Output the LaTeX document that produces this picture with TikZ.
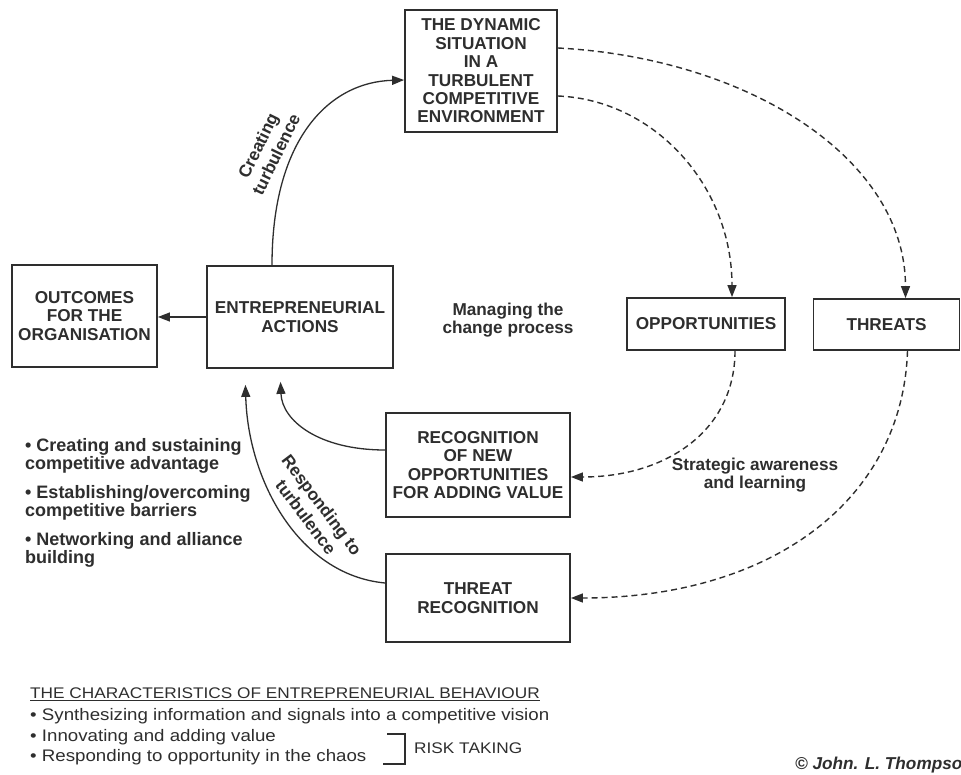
\documentclass[tikz,border=0pt]{standalone}
\usepackage{fontspec}
\setmainfont{Liberation Sans}
\newfontfamily\widesans[FakeStretch=1.12]{Liberation Sans}
\usetikzlibrary{arrows.meta}

\definecolor{ink}{gray}{0.18}

\newcommand{\boxfont}{\bfseries\fontsize{17.2}{18.4}\selectfont}
\newcommand{\listfont}{\bfseries\fontsize{18}{18.6}\selectfont}
\newcommand{\turnfont}{\bfseries\fontsize{17.2}{20}\selectfont}
\newcommand{\notefont}{\widesans\fontsize{16.7}{20}\selectfont}
\newcommand{\headfont}{\widesans\fontsize{15.4}{20}\selectfont}

\tikzset{
  box/.style={draw=ink, line width=1.8pt, align=center, inner sep=0pt,
    font=\boxfont, text=ink},
  lbl/.style={font=\boxfont, text=ink, align=center, inner sep=0pt},
  turned/.style={lbl, font=\turnfont},
  bullets/.style={font=\listfont, text=ink, align=left, anchor=west, inner sep=0pt},
  note/.style={font=\notefont, text=ink, anchor=west, inner sep=0pt},
  flow/.style={draw=ink, line width=1.3pt, -{Triangle[length=12pt,width=9pt]}},
  dflow/.style={flow, line width=1.4pt, dash pattern=on 6pt off 4pt},
}

\begin{document}
\begin{tikzpicture}[x=1pt,y=-1pt]
\fill[white] (0,0) rectangle (961,775);
\useasboundingbox (0,0) rectangle (961,775);

% boxes of the cycle
\node[box, minimum width=152pt, minimum height=122pt] (env) at (481,71)
  {THE DYNAMIC\\SITUATION\\IN A\\TURBULENT\\COMPETITIVE\\ENVIRONMENT};
\node[box, minimum width=145pt, minimum height=102pt] (out) at (84.5,316)
  {OUTCOMES\\FOR THE\\ORGANISATION};
\node[box, minimum width=186pt, minimum height=102pt] (act) at (300,317)
  {ENTREPRENEURIAL\\ACTIONS};
\node[box, minimum width=158pt, minimum height=52pt] (opp) at (706,324)
  {OPPORTUNITIES};
\node[box, minimum width=146pt, minimum height=51pt] (thr) at (886.5,324.5)
  {THREATS};
\node[box, minimum width=184pt, minimum height=104pt] (rec) at (478,465)
  {RECOGNITION\\OF NEW\\OPPORTUNITIES\\FOR ADDING VALUE};
\node[box, minimum width=184pt, minimum height=88pt] (trec) at (478,598)
  {THREAT\\RECOGNITION};

% free labels
\node[lbl] (mgmt) at (508,320) {Managing the\\change process};
\node[lbl] (learn) at (755,475) {Strategic awareness\\and learning};
\node[turned, rotate=64] (ctl) at (267,150) {Creating\\turbulence};
\node[turned, rotate=-53] (rtl) at (314,511) {Responding to\\turbulence};

% solid connectors
\draw[flow] ([xshift=-28pt]act.north) .. controls +(0,-126) and +(-75,2) .. ([yshift=-9pt]env.west);
\draw[flow] (act.west) -- (act.west -| out.east);
\draw[flow, shorten >=13pt] ([yshift=15pt]rec.west) .. controls +(-66,0) and +(2,52) .. ([xshift=-20pt]act.south);
\draw[flow, shorten >=16pt] ([yshift=15pt]trec.west) .. controls +(-86,-8) and +(3,112) .. ([xshift=-55pt]act.south);

% dashed connectors
\draw[dflow] ([yshift=23pt]env.east) .. controls +(190,10) and +(0,-140) .. ([xshift=19pt]thr.north);
\draw[dflow] ([yshift=-25pt]env.east) .. controls +(97,4) and +(0,-111) .. ([xshift=26pt]opp.north);
\draw[dflow] ([xshift=29pt]opp.south) .. controls +(0,80) and +(95,0) .. ([yshift=-12pt]rec.east);
\draw[dflow] ([xshift=21pt]thr.south) .. controls +(-5,150) and +(200,0) .. (trec.east);

% outcomes list
\node[bullets] (b1) at (25,456) {\textbullet\ Creating and sustaining\\competitive advantage};
\node[bullets] (b2) at (25,503) {\textbullet\ Establishing/overcoming\\competitive barriers};
\node[bullets] (b3) at (25,550) {\textbullet\ Networking and alliance\\building};

% characteristics of entrepreneurial behaviour
\node[note, font=\headfont] (head) at (30,693) {THE CHARACTERISTICS OF ENTREPRENEURIAL BEHAVIOUR};
\draw[ink, line width=1pt] ([yshift=-2.5pt]head.base west) -- ([yshift=-2.5pt]head.base east);
\node[note] (c1) at (30,716) {\textbullet\ Synthesizing information and signals into a competitive vision};
\node[note] (c2) at (30,737) {\textbullet\ Innovating and adding value};
\node[note] (c3) at (30,757) {\textbullet\ Responding to opportunity in the chaos};
\coordinate (brt) at (405,734);
\coordinate (brb) at (405,764);
\draw[ink, line width=1.2pt] ([xshift=-18pt]brt) -- (brt) -- (brb) -- ([xshift=-22pt]brb);
\node[note, font=\headfont] (risk) at (414,748) {RISK TAKING};

\node[anchor=west, inner sep=0pt, text=ink, font=\bfseries\itshape\fontsize{17.2}{20}\selectfont] (copy) at (795,765) {© John. L. Thompso};
\end{tikzpicture}
\end{document}
